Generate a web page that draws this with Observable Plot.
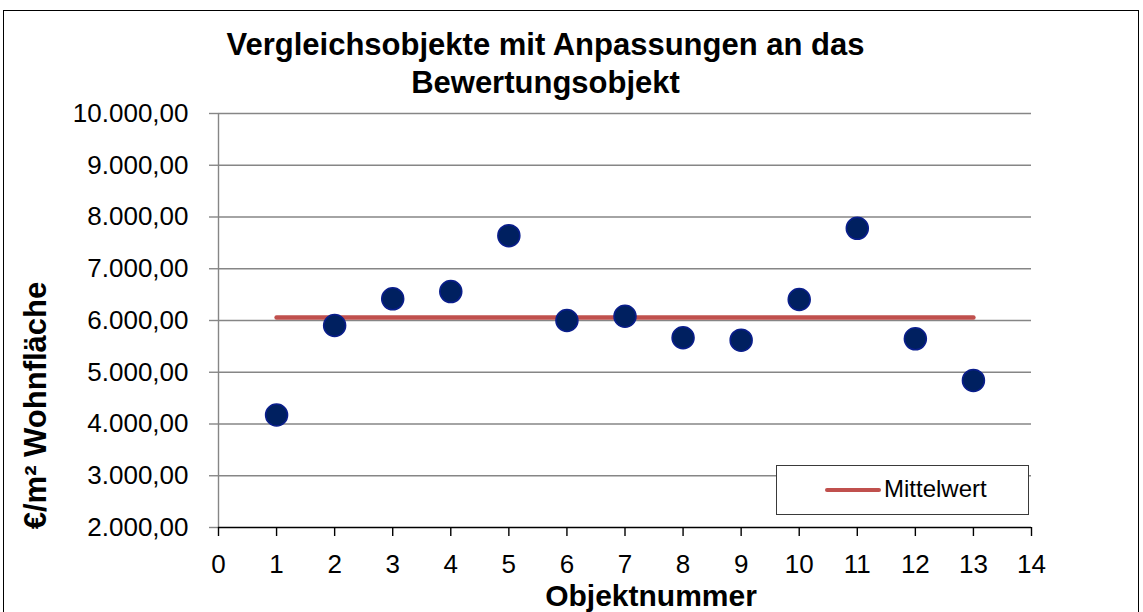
<!DOCTYPE html>
<html>
<head>
<meta charset="utf-8">
<script src="https://cdn.jsdelivr.net/npm/d3@7"></script>
<script src="https://cdn.jsdelivr.net/npm/@observablehq/plot@0.6"></script>
<style>
  html, body { margin: 0; padding: 0; background: #fff; }
  #wrap { position: relative; width: 1143px; height: 612px; overflow: hidden; font-family: "Liberation Sans", Arial, sans-serif; }
  #frame { position: absolute; left: 3px; top: 10px; width: 1136px; height: 640px; border: 1.5px solid #000; box-sizing: border-box; }
  #title { position: absolute; left: 0; top: 26px; width: 1091px; text-align: center; font-weight: bold; font-size: 31px; line-height: 38px; color: #000; }
  #chart { position: absolute; left: 0; top: 95px; }
  #legend { position: absolute; left: 776px; top: 465px; width: 253px; height: 50px; border: 1.5px solid #3a3a3a; background: #fff; box-sizing: border-box; }
  #legend .sw { position: absolute; left: 48px; top: 21.5px; width: 56px; height: 4px; border-radius: 2px; background: #C0504D; }
  #legend .lb { position: absolute; left: 107px; top: 10px; font-size: 24px; line-height: 26px; color: #000; }
</style>
</head>
<body>
<div id="wrap">
  <div id="frame"></div>
  <div id="title">Vergleichsobjekte mit Anpassungen an das<br>Bewertungsobjekt</div>
  <div id="chart"></div>
  <div id="legend"><div class="sw"></div><div class="lb">Mittelwert</div></div>
</div>
<script>
const objektnummer = [1, 2, 3, 4, 5, 6, 7, 8, 9, 10, 11, 12, 13];
const werte = [4175, 5903, 6418, 6559, 7640, 6000, 6083, 5666, 5620, 6405, 7781, 5646, 4842];
const mittelX = [1, 13];
const xTicks = [0, 1, 2, 3, 4, 5, 6, 7, 8, 9, 10, 11, 12, 13, 14];
const yTicks = [2000, 3000, 4000, 5000, 6000, 7000, 8000, 9000, 10000];
const xTitle = "Objektnummer";
const yTitle = "€/m² Wohnfläche";

const de = d3.formatLocale({decimal: ",", thousands: ".", grouping: [3], currency: ["", " €"]});
const fmt = de.format(",.2f");

const punkte = objektnummer.map((x, i) => ({x, y: werte[i]}));
const mittel = d3.mean(werte);
const mittelLinie = mittelX.map(x => ({x, y: mittel}));

const chart = Plot.plot({
  width: 1143,
  height: 517,
  marginLeft: 218,
  marginRight: 112,
  marginTop: 18,
  marginBottom: 85,
  style: {fontFamily: "Liberation Sans, Arial, sans-serif", fontSize: "26px", background: "transparent", color: "#000"},
  x: {domain: [0, 14], label: null},
  y: {domain: [2000, 10000], label: null},
  marks: [
    Plot.ruleY(yTicks.filter(d => d > 2000), {stroke: "#868686", strokeWidth: 1.4}),
    Plot.ruleX([0], {stroke: "#868686", strokeWidth: 1.4}),
    Plot.axisY({ticks: yTicks, tickFormat: fmt, tickSize: 9, tickPadding: 21, fontSize: 26, stroke: "#868686", fill: "#000", label: null, strokeWidth: 1.4}),
    Plot.ruleY([2000], {stroke: "#000", strokeWidth: 1.4}),
    Plot.axisX({ticks: xTicks, tickFormat: d => String(d), tickSize: 9, tickPadding: 18, fontSize: 26, stroke: "#000", fill: "#000", label: null, strokeWidth: 1.4}),
    Plot.line(mittelLinie, {x: "x", y: "y", stroke: "#C0504D", strokeWidth: 4.5, strokeLinecap: "round"}),
    Plot.dot(punkte, {x: "x", y: "y", r: 11, fill: "#002060", stroke: "#0A1E8C", strokeWidth: 1.5}),
    Plot.text([xTitle], {frameAnchor: "bottom", lineAnchor: "bottom", textAnchor: "middle", dx: 26, dy: 78, fontSize: 30, fontWeight: "bold", fill: "#000"}),
    Plot.text([yTitle], {frameAnchor: "left", rotate: -90, textAnchor: "middle", lineAnchor: "middle", dx: -182, dy: 85, fontSize: 31, fontWeight: "bold", fill: "#000"})
  ]
});
document.getElementById("chart").appendChild(chart);
</script>
</body>
</html>
